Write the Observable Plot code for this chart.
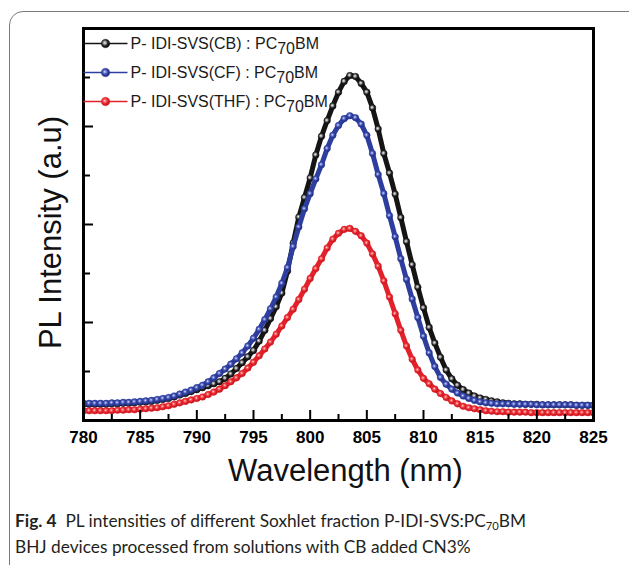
<!DOCTYPE html>
<html><head><meta charset="utf-8">
<script src="https://cdn.jsdelivr.net/npm/d3@7"></script>
<script src="https://cdn.jsdelivr.net/npm/@observablehq/plot@0.6"></script>
<style>
html,body{margin:0;padding:0;background:#fff;}
#fig{position:relative;width:629px;height:565px;overflow:hidden;background:#fff;}
#border{position:absolute;left:9px;top:11px;width:640px;height:575px;border:1.5px solid #7a7a7a;border-radius:14px;box-sizing:border-box;}
#chart{position:absolute;left:0;top:0;}
#caption{position:absolute;left:15px;top:508px;font-family:Lato,"Open Sans",sans-serif;font-size:17.3px;line-height:26px;color:#231f20;white-space:nowrap;}
#caption b{font-weight:700;}
#caption sub{font-size:65%;vertical-align:-0.3em;line-height:0;}
</style></head>
<body>
<div id="fig">
  <div id="border"></div>
  <div id="chart"></div>
  <div id="caption"><b>Fig. 4</b>&nbsp; PL intensities of different Soxhlet fraction P-IDI-SVS:PC<sub>70</sub>BM<br>BHJ devices processed from solutions with CB added CN3%</div>
</div>
<script>
// Wavelength grid (nm)
const wavelengths = [
780,780.5,781,781.5,782,782.5,783,783.5,784,784.5,785,785.5,786,786.5,787,787.5,788,788.5,789,789.5,
790,790.5,791,791.5,792,792.5,793,793.5,794,794.5,795,795.5,796,796.5,797,797.5,798,798.5,799,799.5,
800,800.5,801,801.5,802,802.5,803,803.5,804,804.5,805,805.5,806,806.5,807,807.5,808,808.5,809,809.5,
810,810.5,811,811.5,812,812.5,813,813.5,814,814.5,815,815.5,816,816.5,817,817.5,818,818.5,819,819.5,
820,820.5,821,821.5,822,822.5,823,823.5,824,824.5,825];

// P- IDI-SVS(CB) : PC70BM
const cbValues = [
0.33,0.33,0.33,0.33,0.33,
0.34,0.34,0.35,0.35,0.36,0.37,0.38,0.39,
0.41,0.43,0.45,0.48,0.52,0.55,0.59,0.63,
0.67,0.71,0.75,0.79,0.86,0.95,1.06,1.18,
1.30,1.43,1.62,1.84,2.08,2.32,2.60,3.05,
3.62,4.15,4.55,4.95,5.42,5.80,6.12,6.42,
6.70,6.92,7.04,7.02,6.88,6.70,6.38,5.95,
5.45,5.05,4.62,4.14,3.65,3.18,2.72,2.30,
1.90,1.58,1.29,1.03,0.85,0.72,0.63,0.56,
0.50,0.46,0.43,0.40,0.38,0.36,0.35,0.34,
0.34,0.33,0.33,0.33,0.32,0.32,0.32,0.32,
0.32,0.32,0.31,0.31,0.31,0.31];

// P- IDI-SVS(CF) : PC70BM
const cfValues = [
0.35,0.35,0.35,0.35,0.35,
0.36,0.36,0.37,0.37,0.38,0.39,0.40,0.41,
0.43,0.45,0.47,0.50,0.54,0.58,0.62,0.67,
0.72,0.79,0.87,0.96,1.05,1.15,1.26,1.38,
1.52,1.68,1.86,2.06,2.28,2.52,2.80,3.12,
3.55,3.95,4.32,4.63,4.93,5.22,5.55,5.82,
6.02,6.16,6.22,6.18,6.05,5.82,5.45,5.02,
4.63,4.18,3.75,3.30,2.88,2.48,2.10,1.72,
1.38,1.10,0.88,0.74,0.64,0.56,0.50,0.45,
0.41,0.38,0.36,0.35,0.34,0.34,0.34,0.33,
0.33,0.33,0.33,0.32,0.32,0.32,0.32,0.32,
0.32,0.32,0.31,0.31,0.31,0.31];

// P- IDI-SVS(THF) : PC70BM
const thfValues = [
0.20,0.20,0.20,0.20,0.20,
0.20,0.21,0.21,0.22,0.22,0.23,0.24,0.25,
0.26,0.28,0.30,0.33,0.36,0.39,0.42,0.45,
0.48,0.53,0.58,0.64,0.71,0.79,0.87,0.96,
1.07,1.19,1.32,1.46,1.60,1.76,1.93,2.10,
2.27,2.47,2.68,2.90,3.10,3.30,3.52,3.70,
3.82,3.90,3.92,3.86,3.77,3.62,3.40,3.15,
2.85,2.52,2.18,1.84,1.52,1.25,1.03,0.86,
0.75,0.64,0.55,0.47,0.40,0.34,0.29,0.26,
0.24,0.22,0.20,0.19,0.18,0.18,0.17,0.17,
0.17,0.17,0.16,0.16,0.16,0.16,0.16,0.16,
0.16,0.16,0.16,0.16,0.16,0.16];

const seriesLabels = ["P- IDI-SVS(CB) : PC70BM", "P- IDI-SVS(CF) : PC70BM", "P- IDI-SVS(THF) : PC70BM"];
const seriesColors = ["#151515", "#2d3e9e", "#e3212b"];
const seriesGradients = ["url(#gK)", "url(#gB)", "url(#gR)"];
const seriesValues = [cbValues, cfValues, thfValues];

const xTickLabels = [780,785,790,795,800,805,810,815,820,825];
const xMinorTicks = [782.5,787.5,792.5,797.5,802.5,807.5,812.5,817.5,822.5];
const yMajorTicks = [2,4,6];
const yMinorTicks = [1,3,5,7];

const W = 629, H = 500;
const mL = 83, mR = 36, mT = 28, mB = 80;
const xDom = [780, 825], yDom = [0, 8];
const pxPerNm = (W - mL - mR) / (xDom[1] - xDom[0]);
const pxPerUnit = (H - mT - mB) / (yDom[1] - yDom[0]);

const tables = seriesValues.map(vals => wavelengths.map((w, i) => ({w, v: vals[i]})));

const marks = [];
tables.forEach((t, k) => {
  marks.push(Plot.line(t, {x: "w", y: "v", stroke: seriesColors[k], strokeWidth: 5, clip: true}));
  marks.push(Plot.dot(t, {x: "w", y: "v", r: 3.3, fill: seriesGradients[k], stroke: seriesColors[k], strokeWidth: 0.5, clip: true}));
});

// inward ticks
marks.push(Plot.ruleX(xTickLabels, {x: d => d, y1: 0, y2: 10 / pxPerUnit, stroke: "#000", strokeWidth: 2}));
marks.push(Plot.ruleX(xMinorTicks, {x: d => d, y1: 0, y2: 6 / pxPerUnit, stroke: "#000", strokeWidth: 2}));
marks.push(Plot.ruleY(yMajorTicks, {y: d => d, x1: 780, x2: 780 + 10 / pxPerNm, stroke: "#000", strokeWidth: 2}));
marks.push(Plot.ruleY(yMinorTicks, {y: d => d, x1: 780, x2: 780 + 7 / pxPerNm, stroke: "#000", strokeWidth: 2}));
marks.push(Plot.frame({stroke: "#000", strokeWidth: 3}));

// tick labels
marks.push(Plot.text(xTickLabels, {x: d => d, frameAnchor: "bottom", lineAnchor: "top", dy: 10, text: d => String(d),
  fontSize: 17, fontWeight: "bold", fontFamily: "Liberation Sans, Arial, sans-serif", fill: "#000"}));

// axis titles
marks.push(Plot.text(["Wavelength (nm)"], {frameAnchor: "bottom", dx: 7, dy: 51, lineAnchor: "middle", textAnchor: "middle", text: d => d,
  fontSize: 31, fontFamily: "Liberation Sans, Arial, sans-serif", fill: "#111"}));
marks.push(Plot.text(["PL Intensity (a.u)"], {frameAnchor: "left", dx: -32, dy: 8, rotate: -90, lineAnchor: "middle", textAnchor: "middle", text: d => d,
  fontSize: 31, fontFamily: "Liberation Sans, Arial, sans-serif", fill: "#111"}));

// legend
const lineSym = {draw(ctx) { ctx.moveTo(-22, 0); ctx.lineTo(22, 0); }};
seriesLabels.forEach((lab, i) => {
  const dy = 15 + 29 * i;
  marks.push(Plot.dot([0], {frameAnchor: "top-left", dx: 22, dy, symbol: lineSym, stroke: seriesColors[i], strokeWidth: 1.3, fill: "none"}));
  marks.push(Plot.dot([0], {frameAnchor: "top-left", dx: 22, dy, r: 4.3, fill: seriesGradients[i], stroke: seriesColors[i], strokeWidth: 0.4}));
  marks.push(Plot.text([lab], {frameAnchor: "top-left", dx: 47, dy, lineAnchor: "middle", textAnchor: "start", text: d => d,
    fontSize: 16, fontFamily: "Liberation Sans, Arial, sans-serif", fill: "#1a1a1a"}));
});

const chart = Plot.plot({
  width: W, height: H,
  marginLeft: mL, marginRight: mR, marginTop: mT, marginBottom: mB,
  x: {domain: xDom, axis: null},
  y: {domain: yDom, axis: null},
  style: {background: "transparent", overflow: "visible"},
  marks
});

// gradients for shaded spheres
const svg = d3.select(chart);
const defs = svg.insert("defs", ":first-child");
function grad(id, stops) {
  const g = defs.append("radialGradient").attr("id", id).attr("cx", "42%").attr("cy", "42%").attr("r", "60%");
  stops.forEach(([o, c]) => g.append("stop").attr("offset", o).attr("stop-color", c));
}
grad("gK", [["0%", "#f4f4f4"], ["28%", "#a0a0a0"], ["58%", "#2a2a2a"], ["100%", "#000"]]);
grad("gB", [["0%", "#e8ebff"], ["28%", "#6e7bd0"], ["60%", "#2f3fa0"], ["100%", "#1e2a78"]]);
grad("gR", [["0%", "#ffe4e4"], ["28%", "#f46262"], ["60%", "#e3212b"], ["100%", "#b5121a"]]);

// subscript 70 in legend labels
svg.selectAll("text").each(function() {
  const s = this.textContent;
  const idx = s.indexOf("70BM");
  if (idx < 0) return;
  const t = d3.select(this);
  t.text(s.slice(0, idx));
  t.append("tspan").attr("dy", 5).text("70");
  t.append("tspan").attr("dy", -5).text("BM");
});

document.getElementById("chart").appendChild(chart);
</script>
</body></html>
